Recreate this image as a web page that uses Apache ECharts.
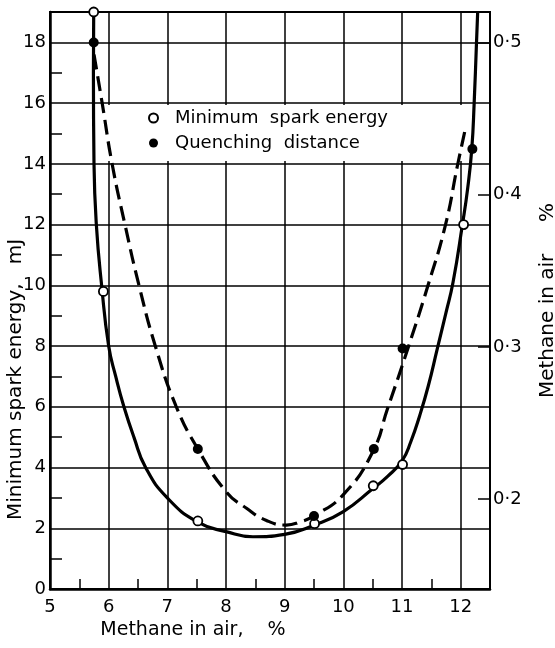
<!DOCTYPE html>
<html>
<head>
<meta charset="utf-8">
<style>
  html, body { margin: 0; padding: 0; background: #fff; }
  #chart { width: 555px; height: 648px; }
</style>
<script src="https://cdn.jsdelivr.net/npm/echarts@6/dist/echarts.min.js"></script>
</head>
<body>
<div id="chart"></div>
<script>
// Measured points: minimum spark energy (mJ, left axis)
const sparkX = [5.745, 5.91, 7.52, 9.51, 10.51, 11.01, 12.05];
const sparkEnergy = [19.0, 9.8, 2.24, 2.15, 3.4, 4.1, 12.0];

// Measured points: quenching distance (right axis)
const quenchX = [5.745, 7.52, 9.50, 10.52, 11.01, 12.2];
const quenchDist = [0.500, 0.233, 0.189, 0.233, 0.299, 0.430];

// Fitted curve through the spark energy points (solid)
const sparkCurveX = [5.745, 5.74, 5.75, 5.79, 5.88, 6.00, 6.12, 6.26, 6.43, 6.63, 7.00, 7.52, 8.00, 8.46, 9.00, 9.50, 10.00, 10.50, 10.75, 11.00, 11.15, 11.30, 11.45, 11.60, 11.75, 11.87, 12.03, 12.12, 12.19, 12.23, 12.27, 12.29];
const sparkCurveY = [19, 17, 14, 12, 10, 8, 7, 6, 5, 4, 3.0, 2.2, 1.89, 1.72, 1.8, 2.1, 2.55, 3.3, 3.7, 4.22, 4.85, 5.7, 6.7, 7.9, 9.1, 10.1, 12, 13.2, 14.5, 16, 18, 19];

// Fitted curve through the quenching distance points (dashed)
const quenchCurveX = [5.75, 5.89, 6.06, 6.28, 6.52, 6.80, 7.15, 7.52, 8.00, 8.35, 8.69, 9.03, 9.26, 9.50, 10.00, 10.50, 10.75, 11.10, 11.44, 11.74, 11.95, 12.09];
const quenchCurveY = [0.492, 0.460, 0.420, 0.380, 0.340, 0.300, 0.261, 0.233, 0.205, 0.194, 0.186, 0.183, 0.185, 0.189, 0.203, 0.231, 0.259, 0.299, 0.340, 0.380, 0.420, 0.445];

// Tick values
const xLabels = [5, 6, 7, 8, 9, 10, 11, 12];
const xMinorTicks = [5.5, 6.5, 7.5, 8.5, 9.5, 10.5, 11.5];
const leftLabels = [0, 2, 4, 6, 8, 10, 12, 14, 16, 18];
const leftMinorTicks = [1, 3, 5, 7, 9, 11, 13, 15, 17];
const rightLabels = [0.2, 0.3, 0.4, 0.5];

const pairs = (xs, ys) => xs.map((x, i) => [x, ys[i]]);

const FONT = 'DejaVu Sans';
const INK = '#000';

const sparkName = 'Minimum  spark energy';
const quenchName = 'Quenching  distance';

const chart = echarts.init(document.getElementById('chart'), null, { renderer: 'canvas' });

chart.setOption({
  animation: false,
  backgroundColor: '#fff',
  textStyle: { fontFamily: FONT, color: INK },
  grid: {
    left: 50, right: 65, top: 12, bottom: 59,
    outerBoundsMode: 'none', containLabel: false,
    show: true, borderColor: INK, borderWidth: 2, backgroundColor: 'transparent'
  },
  legend: {
    z: 1,
    orient: 'vertical',
    left: 103, top: 105,
    padding: [3, 87, 8, 45],
    itemGap: 5,
    itemWidth: 9, itemHeight: 9,
    backgroundColor: '#fff',
    selectedMode: false,
    data: [
      { name: sparkName, icon: 'circle' },
      { name: quenchName, icon: 'circle' }
    ],
    textStyle: { fontFamily: FONT, fontSize: 18, color: INK, lineHeight: 20, padding: [0, 0, 0, 12] }
  },
  xAxis: [
    {
      type: 'value', min: 5, max: 12.5, interval: 1,
      name: 'Methane in air,    %',
      nameLocation: 'middle', nameGap: 32, nameMoveOverlap: false,
      nameTextStyle: { fontFamily: FONT, fontSize: 19, color: INK, padding: [0, 154, 0, 0] },
      axisLine: { show: true, onZero: false, lineStyle: { color: INK, width: 2.5 } },
      axisTick: { show: false },
      axisLabel: {
        fontFamily: FONT, fontSize: 18, color: INK, margin: 9,
        formatter: v => (xLabels.indexOf(v) >= 0 ? String(v) : '')
      },
      splitLine: { show: true, lineStyle: { color: INK, width: 1.5 } }
    },
    {
      type: 'value', min: 5, max: 12.5, position: 'bottom',
      axisLine: { show: false },
      axisLabel: { show: false },
      splitLine: { show: false },
      axisTick: { show: true, inside: true, length: 10, customValues: xMinorTicks, lineStyle: { color: INK, width: 1.5 } }
    }
  ],
  yAxis: [
    {
      type: 'value', min: 0, max: 19, interval: 2, position: 'left',
      name: 'Minimum spark energy,   mJ',
      nameLocation: 'middle', nameGap: 24, nameMoveOverlap: false,
      nameTextStyle: { fontFamily: FONT, fontSize: 20, color: INK, padding: [0, 158, 0, 0] },
      axisLine: { show: true, onZero: false, lineStyle: { color: INK, width: 2.5 } },
      axisTick: { show: false },
      axisLabel: {
        fontFamily: FONT, fontSize: 18, color: INK, margin: 4,
        formatter: v => (leftLabels.indexOf(v) >= 0 ? String(v) : '')
      },
      splitLine: { show: true, lineStyle: { color: INK, width: 1.5 } }
    },
    {
      type: 'value', min: 0.141, max: 0.520, position: 'right',
      name: 'Methane in air     %',
      nameLocation: 'middle', nameGap: 48,
      nameTextStyle: { fontFamily: FONT, fontSize: 20, color: INK },
      axisLine: { show: true, onZero: false, lineStyle: { color: INK, width: 2 } },
      axisTick: { show: true, inside: true, length: 12, customValues: rightLabels, lineStyle: { color: INK, width: 1.5 } },
      axisLabel: {
        fontFamily: FONT, fontSize: 18, color: INK, margin: 3,
        customValues: rightLabels,
        formatter: v => v.toFixed(1).replace('.', '\u00B7')
      },
      splitLine: { show: false }
    },
    {
      type: 'value', min: 0, max: 19, position: 'left',
      axisLine: { show: false },
      axisLabel: { show: false },
      splitLine: { show: false },
      axisTick: { show: true, inside: true, length: 12, customValues: leftMinorTicks, lineStyle: { color: INK, width: 1.5 } }
    }
  ],
  series: [
    {
      name: 'spark-fit', type: 'line', xAxisIndex: 0, yAxisIndex: 0,
      data: pairs(sparkCurveX, sparkCurveY),
      smooth: 0.5, showSymbol: false, silent: true, z: 2,
      lineStyle: { color: INK, width: 3.2 }
    },
    {
      name: 'quench-fit', type: 'line', xAxisIndex: 0, yAxisIndex: 1,
      data: pairs(quenchCurveX, quenchCurveY),
      smooth: 0.5, showSymbol: false, silent: true, z: 2,
      lineStyle: { color: INK, width: 3.2, type: [15, 7] }
    },
    {
      name: sparkName, type: 'scatter', xAxisIndex: 0, yAxisIndex: 0,
      data: pairs(sparkX, sparkEnergy),
      symbol: 'circle', symbolSize: 9, z: 3,
      itemStyle: { color: '#fff', borderColor: INK, borderWidth: 1.8, opacity: 1 }
    },
    {
      name: quenchName, type: 'scatter', xAxisIndex: 0, yAxisIndex: 1,
      data: pairs(quenchX, quenchDist),
      symbol: 'circle', symbolSize: 10, z: 3,
      itemStyle: { color: INK, opacity: 1 }
    }
  ]
});
</script>
</body>
</html>
